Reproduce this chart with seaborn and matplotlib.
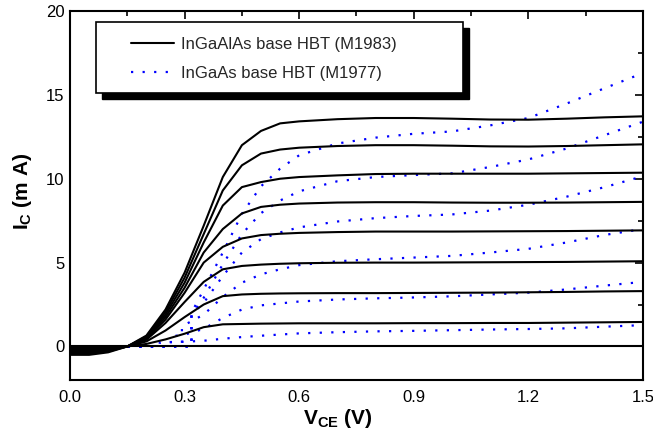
import matplotlib
matplotlib.use("Agg")
import matplotlib.pyplot as plt
from matplotlib.patches import Rectangle
from matplotlib.lines import Line2D
from matplotlib.ticker import MultipleLocator, FixedLocator
import seaborn as sns
import pandas as pd

sns.set_theme(style="white")
plt.rcParams['font.family'] = ['Liberation Sans', 'DejaVu Sans']
plt.rcParams['mathtext.fontset'] = 'custom'
plt.rcParams['mathtext.rm'] = 'Liberation Sans'
plt.rcParams['mathtext.bf'] = 'Liberation Sans:bold'
plt.rcParams['mathtext.it'] = 'Liberation Sans:italic'

# ---------------- data ----------------
# InGaAlAs base HBT (M1983) - solid curves
v_solid = [0, 0.05, 0.1, 0.15, 0.2, 0.25, 0.3, 0.35, 0.4, 0.45, 0.5, 0.55,
           0.6, 0.7, 0.8, 0.9, 1.0, 1.1, 1.2, 1.3, 1.4, 1.5]
s0 = [0.0] * 22
s1 = [-0.06, -0.06, -0.04, 0, 0.15, 0.42, 0.76, 1.15, 1.32, 1.34, 1.36, 1.37,
      1.38, 1.38, 1.38, 1.39, 1.39, 1.40, 1.40, 1.42, 1.44, 1.46]
s2 = [-0.12, -0.12, -0.09, 0, 0.3, 0.95, 1.75, 2.5, 3.0, 3.1, 3.14, 3.16,
      3.17, 3.18, 3.18, 3.19, 3.2, 3.21, 3.23, 3.25, 3.28, 3.3]
s3 = [-0.18, -0.18, -0.13, 0, 0.4, 1.4, 2.65, 3.85, 4.6, 4.8, 4.88, 4.93,
      4.96, 4.99, 5.0, 5.0, 5.01, 5.02, 5.03, 5.04, 5.06, 5.08]
s4 = [-0.24, -0.24, -0.17, 0, 0.45, 1.6, 3.2, 5.0, 5.94, 6.44, 6.64, 6.72,
      6.77, 6.82, 6.85, 6.85, 6.85, 6.86, 6.87, 6.88, 6.9, 6.92]
s5 = [-0.3, -0.3, -0.21, 0, 0.5, 1.75, 3.5, 5.6, 7.0, 7.93, 8.32, 8.45,
      8.52, 8.58, 8.6, 8.6, 8.58, 8.57, 8.57, 8.58, 8.6, 8.62]
s6 = [-0.36, -0.36, -0.25, 0, 0.55, 1.9, 3.8, 6.2, 8.4, 9.5, 9.8, 10.0,
      10.1, 10.2, 10.28, 10.3, 10.3, 10.3, 10.3, 10.32, 10.34, 10.36]
s7 = [-0.43, -0.43, -0.3, 0, 0.6, 2.05, 4.1, 6.7, 9.3, 10.8, 11.5, 11.74,
      11.85, 11.95, 12.0, 12.0, 11.97, 11.93, 11.92, 11.95, 12.0, 12.05]
s8 = [-0.5, -0.5, -0.35, 0, 0.65, 2.2, 4.4, 7.2, 10.1, 12.0, 12.85, 13.3,
      13.42, 13.55, 13.62, 13.62, 13.58, 13.53, 13.52, 13.58, 13.66, 13.72]

# InGaAs base HBT (M1977) - dotted curves
tail_v = [0.6, 0.7, 0.8, 0.9, 1.0, 1.1, 1.2, 1.3, 1.4, 1.5]
d1_v = [0, 0.235, 0.235, 0.3, 0.35, 0.4, 0.45, 0.5] + tail_v
d1_i = [0, 0, 0.25, 0.28, 0.34, 0.46, 0.56, 0.64,
        0.78, 0.85, 0.9, 0.93, 0.97, 1.01, 1.04, 1.08, 1.18, 1.27]
d2_v = [0, 0.264, 0.264, 0.3, 0.35, 0.4, 0.45, 0.5] + tail_v
d2_i = [0, 0, 0.6, 0.7, 1.05, 1.7, 2.2, 2.45,
        2.68, 2.8, 2.87, 2.92, 2.99, 3.1, 3.21, 3.4, 3.63, 3.85]
d3_v = [0, 0.293, 0.293, 0.35, 0.4, 0.45, 0.5, 0.55] + tail_v
d3_i = [0, 0, 1.2, 1.9, 2.95, 3.8, 4.3, 4.6,
        4.85, 5.08, 5.2, 5.3, 5.4, 5.6, 5.82, 6.2, 6.65, 7.0]
d4_v = [0, 0.318, 0.318, 0.35, 0.4, 0.45, 0.5, 0.55] + tail_v
d4_i = [0, 0, 1.9, 2.6, 4.2, 5.6, 6.4, 6.8,
        7.1, 7.45, 7.65, 7.78, 7.87, 8.1, 8.45, 8.93, 9.5, 10.15]
d5_v = [0, 0.318, 0.318, 0.35, 0.4, 0.45, 0.5, 0.55] + tail_v
d5_i = [0, 0, 1.9, 2.9, 4.9, 6.7, 7.95, 8.7,
        9.25, 9.85, 10.1, 10.22, 10.32, 10.7, 11.15, 11.8, 12.6, 13.4]
d6_v = [0, 0.318, 0.318, 0.35, 0.4, 0.45, 0.5, 0.55] + tail_v
d6_i = [0, 0, 2.0, 3.4, 5.6, 7.9, 9.55, 10.6,
        11.4, 12.1, 12.45, 12.68, 12.82, 13.18, 13.62, 14.48, 15.4, 16.3]

legend_labels = ["InGaAlAs base HBT (M1983)", "InGaAs base HBT (M1977)"]
x_ticks = [0.0, 0.3, 0.6, 0.9, 1.2, 1.5]
x_ticklabels = ["0.0", "0.3", "0.6", "0.9", "1.2", "1.5"]
y_ticks = [0, 5, 10, 15, 20]
y_ticklabels = ["0", "5", "10", "15", "20"]

solid_sets = [s0, s1, s2, s3, s4, s5, s6, s7, s8]
dotted_sets = [(d1_v, d1_i), (d2_v, d2_i), (d3_v, d3_i),
               (d4_v, d4_i), (d5_v, d5_i), (d6_v, d6_i)]

# ---------------- figure ----------------
W, H = 653, 434
fig = plt.figure(figsize=(W / 100, H / 100), dpi=100)
ax = fig.add_axes([70 / W, 1 - 380 / H, 573 / W, 369 / H])

for v, i in dotted_sets:
    df = pd.DataFrame({"V": v, "I": i})
    sns.lineplot(data=df, x="V", y="I", sort=False, estimator=None, ax=ax,
                 color="#0000ff", linewidth=1.6, linestyle=(0, (1, 4.2)),
                 zorder=2)
for s in solid_sets:
    df = pd.DataFrame({"V": v_solid, "I": s})
    sns.lineplot(data=df, x="V", y="I", sort=False, estimator=None, ax=ax,
                 color="black", linewidth=1.5, zorder=3)

ax.set_xlim(0, 1.5)
ax.set_ylim(-2, 20)
ax.xaxis.set_major_locator(FixedLocator(x_ticks))
ax.set_xticklabels(x_ticklabels)
ax.yaxis.set_major_locator(FixedLocator(y_ticks))
ax.set_yticklabels(y_ticklabels)
ax.xaxis.set_minor_locator(MultipleLocator(0.15))
ax.yaxis.set_minor_locator(MultipleLocator(2.5))
ax.tick_params(which="both", direction="in", top=True, right=True,
               width=1.2, colors="black", labelsize=12)
ax.tick_params(which="major", length=5.5)
ax.tick_params(which="minor", length=3.5)
ax.tick_params(axis="x", which="major", pad=7)
ax.tick_params(axis="y", which="major", pad=4)
for sp in ax.spines.values():
    sp.set_linewidth(1.5)
    sp.set_color("black")

ax.set_xlabel(r"$\mathbf{V_{CE}}$ (V)", fontsize=15, fontweight="bold",
              color="black")
ax.set_ylabel(r"$\mathbf{I_{C}}$ (m A)", fontsize=15, fontweight="bold",
              color="black")
ax.xaxis.set_label_coords(0.468, -0.072)
ax.yaxis.set_label_coords(-0.063, 0.51)

# legend box with black drop shadow
bx0, by0, bw, bh = 96, 22, 367, 71
off = 5.5
fig.add_artist(Rectangle(((bx0 + off) / W, 1 - (by0 + bh + off) / H),
                         bw / W, bh / H, transform=fig.transFigure,
                         facecolor="black", edgecolor="black", zorder=5))
fig.add_artist(Rectangle((bx0 / W, 1 - (by0 + bh) / H), bw / W, bh / H,
                         transform=fig.transFigure, facecolor="white",
                         edgecolor="black", linewidth=1.2, zorder=6))
handles = [Line2D([], [], color="black", lw=1.5),
           Line2D([], [], color="#0000ff", lw=1.6, linestyle=(0, (1, 4.2)))]
leg = fig.legend(handles, legend_labels, loc="upper left",
                 bbox_to_anchor=(131 / W, 1 - 37 / H), frameon=False,
                 fontsize=12, handlelength=2.6, handletextpad=0.4,
                 borderpad=0, borderaxespad=0, labelspacing=0.85)
leg.set_zorder(7)

fig.savefig("out.png", dpi=100)
